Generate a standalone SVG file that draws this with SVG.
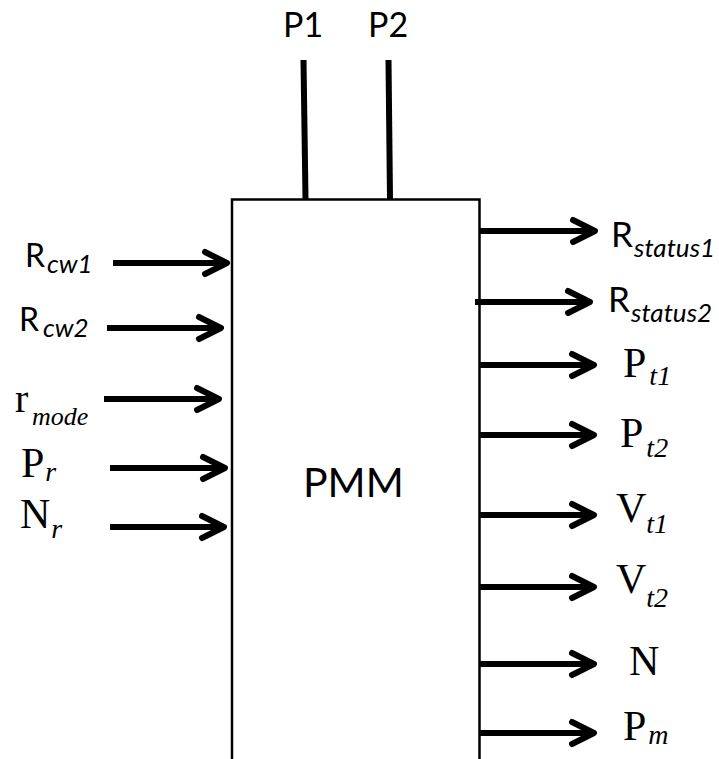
<svg xmlns="http://www.w3.org/2000/svg" width="719" height="759" viewBox="0 0 719 759">
<style>
.cal{font-family:Lato,"Liberation Sans",sans-serif;fill:#000}
.tms{font-family:"Liberation Serif","Times New Roman",serif;fill:#000}
.it{font-style:italic}
.arr{stroke:#000;stroke-width:6;fill:none;marker-end:url(#ah)}
.bus{stroke:#000;stroke-width:6;fill:none}
</style>
<defs>
<marker id="ah" markerUnits="userSpaceOnUse" markerWidth="40" markerHeight="40" refX="30" refY="20" orient="auto" overflow="visible">
<path d="M8,9 L30,20 L8,31" fill="none" stroke="#000" stroke-width="6" stroke-linecap="round" stroke-linejoin="round"/>
</marker>
</defs>
<rect width="719" height="759" fill="#fff"/>
<g id="pmm">
<path d="M232,760 V199.5 H479.5 V760" fill="none" stroke="#000" stroke-width="2.5"/>
<text class="cal" x="303" y="497" font-size="41">PMM</text>
</g>
<g id="connectors">
<path class="bus" d="M303.5,60 L305.5,199"/>
<path class="bus" d="M388.5,60 L390,199"/>
<path class="arr" d="M113,263 H227"/>
<path class="arr" d="M107,328 H221"/>
<path class="arr" d="M104,399 H219"/>
<path class="arr" d="M110,468 H225"/>
<path class="arr" d="M110,527 H224"/>
<path class="arr" d="M480,231 H595"/>
<path class="arr" d="M475,302 H590"/>
<path class="arr" d="M480,365 H594"/>
<path class="arr" d="M480,435 H594"/>
<path class="arr" d="M480,515 H594"/>
<path class="arr" d="M480,587 H594"/>
<path class="arr" d="M480,664 H594"/>
<path class="arr" d="M480,733 H594"/>
</g>
<g id="p1"><text class="cal" x="283" y="37" font-size="34">P1</text></g>
<g id="p2"><text class="cal" x="368" y="37" font-size="34">P2</text></g>
<g id="rcw1"><text class="cal" x="25" y="267" font-size="32">R<tspan class="it" x="47" y="273" font-size="26">cw1</tspan></text></g>
<g id="rcw2"><text class="cal" x="19" y="331" font-size="32">R<tspan class="it" x="43" y="337" font-size="26">cw2</tspan></text></g>
<g id="rmode"><text class="tms" x="15" y="412" font-size="40">r<tspan class="it" x="32" y="425" font-size="26">mode</tspan></text></g>
<g id="pr"><text class="tms" x="21" y="477" font-size="42">P<tspan class="it" dx="1" y="481" font-size="28">r</tspan></text></g>
<g id="nr"><text class="tms" x="20" y="528" font-size="42">N<tspan class="it" dx="1" y="538" font-size="28">r</tspan></text></g>
<g id="rstatus1"><text class="cal" x="611" y="247" font-size="35">R<tspan class="it" x="634" y="257" font-size="26">status1</tspan></text></g>
<g id="rstatus2"><text class="cal" x="608" y="312" font-size="35">R<tspan class="it" x="631" y="322" font-size="26">status2</tspan></text></g>
<g id="pt1"><text class="tms" x="623" y="377" font-size="42">P<tspan class="it" dx="3" y="385" font-size="28">t1</tspan></text></g>
<g id="pt2"><text class="tms" x="620" y="447" font-size="42">P<tspan class="it" dx="3" y="457" font-size="28">t2</tspan></text></g>
<g id="vt1"><text class="tms" x="616" y="522" font-size="42">V<tspan class="it" dx="0" y="533" font-size="28">t1</tspan></text></g>
<g id="vt2"><text class="tms" x="616" y="593" font-size="42">V<tspan class="it" dx="0" y="607" font-size="28">t2</tspan></text></g>
<g id="n"><text class="tms" x="629" y="675" font-size="42">N</text></g>
<g id="pm"><text class="tms" x="623" y="740" font-size="42">P<tspan class="it" dx="2" y="744" font-size="28">m</tspan></text></g>
</svg>
